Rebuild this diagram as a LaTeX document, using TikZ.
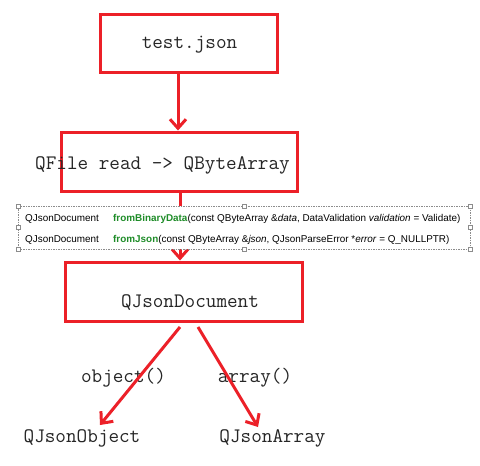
\documentclass[tikz,border=0pt]{standalone}
\usepackage{fontspec}
\setmainfont{Liberation Sans}
\usetikzlibrary{arrows.meta}
\definecolor{boxred}{RGB}{236,32,40}
\definecolor{fngreen}{RGB}{30,140,40}
\definecolor{handlegray}{RGB}{140,140,140}
\begin{document}
\begin{tikzpicture}[x=1pt,y=-1pt,
  redbox/.style={draw=boxred,line width=3pt,rectangle,inner sep=0pt},
  codetext/.style={font=\ttfamily\fontsize{20.6}{22}\selectfont,inner sep=0pt,text=black!85},
  redarrow/.style={draw=boxred,line width=3pt,-{Straight Barb[length=9pt,width=16pt]}},
  sigtext/.style={font=\fontsize{9.9}{12}\selectfont,inner sep=0pt,anchor=base west},
  handle/.style={draw=handlegray,fill=white,line width=0.5pt,minimum size=4pt,inner sep=0pt,rectangle}
]
\useasboundingbox (0,0) rectangle (480,466);
\fill[white] (0,0) rectangle (480,466);

% boxes
\node[redbox,minimum width=177pt,minimum height=58pt] (box1) at (188.5,43) {};
\node[redbox,minimum width=236pt,minimum height=59pt] (box2) at (179,161.5) {};
\node[redbox,minimum width=237pt,minimum height=59pt] (box3) at (183.5,291.5) {};

% box texts
\node[codetext] (t1) at (189.5,45) {test.json};
\node[codetext] (t2) at (162.5,165) {QFile read -> QByteArray};
\node[codetext] (t3) at (190,303) {QJsonDocument};

% arrows
\draw[redarrow] (box1.south -| 178,0) -- (box2.north -| 178,0);
\draw[redarrow] (box2.south -| 180,0) -- (box3.north -| 180,0);

% signature box
\node[draw=handlegray,dashed,dash pattern=on 1.5pt off 1pt,line width=0.5pt,fill=white,
  minimum width=452pt,minimum height=43pt,inner sep=0pt] (sig) at (244,227.5) {};
\foreach \a in {north west,north,north east,east,south east,south,south west,west}
  \node[handle] at (sig.\a) {};
\node[sigtext] (s1a) at (25,221.5) {QJsonDocument};
\node[sigtext] (s1b) at (113,221.5) {\textcolor{fngreen}{\textbf{fromBinaryData}}(const QByteArray \&\textit{data}, DataValidation \textit{validation} = Validate)};
\node[sigtext] (s2a) at (25,242.5) {QJsonDocument};
\node[sigtext] (s2b) at (113,242.5) {\textcolor{fngreen}{\textbf{fromJson}}(const QByteArray \&\textit{json}, QJsonParseError *\textit{error} = Q\_NULLPTR)};

% lower part
\node[codetext] (obj) at (82,438) {QJsonObject};
\node[codetext] (arr) at (272.5,438) {QJsonArray};
\node[codetext] (lobj) at (123.5,378) {object()};
\node[codetext] (larr) at (255,378) {array()};
\coordinate (o1) at (180,327);
\coordinate (o2) at (100,425);
\coordinate (a1) at (198,327);
\coordinate (a2) at (258,427);
\draw[redarrow] (o1) -- (o2);
\draw[redarrow] (a1) -- (a2);
\end{tikzpicture}
\end{document}
